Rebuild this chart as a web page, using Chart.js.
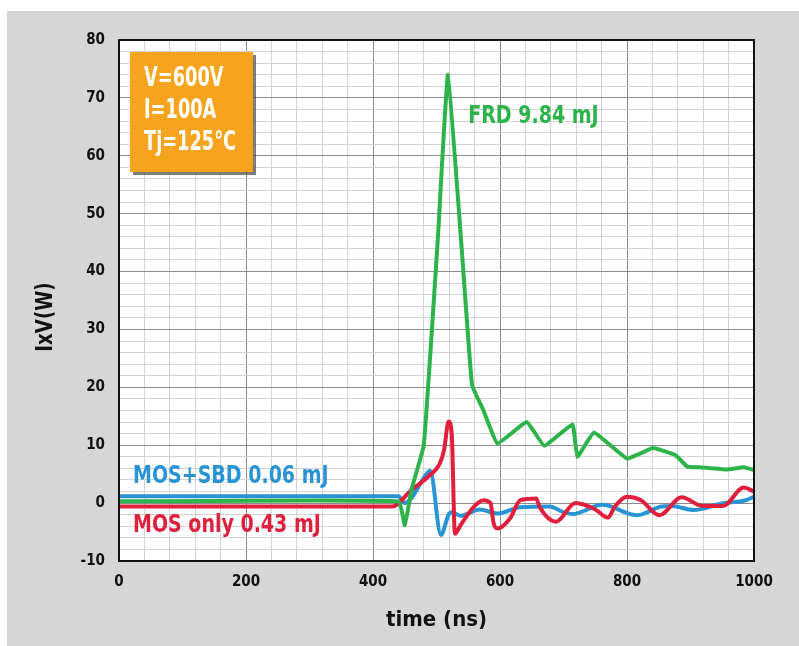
<!DOCTYPE html>
<html>
<head>
<meta charset="utf-8">
<script src="https://cdn.jsdelivr.net/npm/chart.js@4.4.0/dist/chart.umd.min.js"></script>
<style>
  html, body { margin: 0; padding: 0; background: #ffffff; }
  #wrap { width: 799px; height: 646px; position: relative; }
</style>
</head>
<body>
<div id="wrap"><canvas id="c" width="799" height="646"></canvas></div>
<script>
// ---- Data (time in ns, power IxV in W) ----
const frdTime = [0, 440, 450, 461, 480, 502, 518, 541, 556, 574, 596, 642, 670, 714, 722, 748, 800, 841, 876, 895, 914, 957, 984, 1000];
const frdPower = [0.3, 0.3, -3.8, 2.5, 10, 45.5, 74, 42, 20.4, 16, 10.3, 14, 9.9, 13.6, 8, 12.2, 7.7, 9.5, 8.3, 6.3, 6.2, 5.8, 6.2, 5.7];

const mosTime = [0, 430, 460, 487, 505, 512, 519, 524, 529, 538, 559, 574, 585, 590, 596, 616, 632, 657, 662, 688, 719, 750, 770, 781, 800, 822, 851, 886, 919, 951, 984, 1000];
const mosPower = [-0.6, -0.6, 2.2, 4.6, 6.8, 9.2, 14.1, 12, -5.3, -3.8, -0.6, 0.5, 0, -3.5, -4.4, -2.6, 0.5, 0.8, -0.6, -3.2, 0, -1.1, -2.5, -0.6, 1.1, 0.5, -2.1, 1, -0.5, -0.5, 2.7, 2];

const sbdTime = [0, 440, 450, 487, 490, 507, 520, 525, 538, 568, 596, 632, 678, 699, 714, 761, 816, 854, 870, 905, 951, 984, 1000];
const sbdPower = [1.2, 1.2, 0, 5.4, 5.6, -5.5, -1.8, -1.6, -2.2, -1.1, -1.8, -0.7, -0.6, -1.5, -1.9, -0.3, -2.1, -0.6, -0.5, -1.2, 0, 0.4, 1.1];

const seriesLabels = ["FRD 9.84 mJ", "MOS+SBD 0.06 mJ", "MOS only 0.43 mJ"];
const conditionLines = ["V=600V", "I=100A", "Tj=125°C"];
const xTickLabels = [0, 200, 400, 600, 800, 1000];
const yTickLabels = [-10, 0, 10, 20, 30, 40, 50, 60, 70, 80];
const xTitle = "time (ns)";
const yTitle = "IxV(W)";

// ---- Styling ----
const FONT = "'Liberation Sans Narrow', 'DejaVu Sans Condensed', 'Liberation Sans', Arial, sans-serif";
const GREEN = '#2cb34a';
const RED = '#e01f3d';
const BLUE = '#2894d3';

const toPts = (xs, ys) => xs.map((x, i) => ({ x: x, y: ys[i] }));

function narrowText(ctx, text, x, y, sx) {
  ctx.save();
  ctx.translate(x, y);
  ctx.scale(sx, 1);
  ctx.fillText(text, 0, 0);
  ctx.restore();
}

const bgPlugin = {
  id: 'bg',
  beforeDraw(chart) {
    const ctx = chart.ctx, a = chart.chartArea;
    ctx.save();
    ctx.fillStyle = '#ffffff';
    ctx.fillRect(0, 0, chart.width, chart.height);
    ctx.fillStyle = '#d6d6d6';
    ctx.fillRect(7, 11, chart.width - 7, chart.height - 11);
    ctx.fillStyle = '#ffffff';
    ctx.fillRect(a.left, a.top, a.right - a.left, a.bottom - a.top);
    ctx.restore();
  },
  afterDraw(chart) {
    const ctx = chart.ctx, a = chart.chartArea;
    const xs = chart.scales.x, ys = chart.scales.y;
    ctx.save();
    // frame
    ctx.strokeStyle = '#111';
    ctx.lineWidth = 2;
    ctx.strokeRect(a.left, a.top, a.right - a.left, a.bottom - a.top);

    // y title
    ctx.save();
    ctx.translate(46, 317);
    ctx.rotate(-Math.PI / 2);
    ctx.fillStyle = '#111';
    ctx.font = "bold 23px " + FONT;
    ctx.textAlign = 'left';
    ctx.textBaseline = 'middle';
    const tw = ctx.measureText(yTitle).width * 0.88;
    narrowText(ctx, yTitle, -tw / 2, 0, 0.88);
    ctx.restore();

    // condition box
    const bx = a.left + 11, by = a.top + 12, bw = 123, bh = 120;
    ctx.fillStyle = 'rgba(70,70,70,0.7)';
    ctx.fillRect(bx + 3, by + 3, bw, bh);
    ctx.fillStyle = '#f6a41e';
    ctx.fillRect(bx, by, bw, bh);
    ctx.fillStyle = '#ffffff';
    ctx.font = "bold 26px " + FONT;
    ctx.textAlign = 'left';
    ctx.textBaseline = 'middle';
    conditionLines.forEach((t, i) => narrowText(ctx, t, bx + 14, by + 27 + i * 32, 0.76));

    // series labels at data positions
    ctx.font = "bold 24px " + FONT;
    ctx.textBaseline = 'middle';
    ctx.fillStyle = GREEN;
    narrowText(ctx, seriesLabels[0], xs.getPixelForValue(550), ys.getPixelForValue(66.8), 0.88);
    ctx.fillStyle = BLUE;
    narrowText(ctx, seriesLabels[1], xs.getPixelForValue(22), ys.getPixelForValue(4.5), 0.88);
    ctx.fillStyle = RED;
    narrowText(ctx, seriesLabels[2], xs.getPixelForValue(22), ys.getPixelForValue(-3.9), 0.88);
    ctx.restore();
  }
};

new Chart(document.getElementById('c'), {
  type: 'line',
  data: {
    datasets: [
      { label: seriesLabels[0], data: toPts(frdTime, frdPower), borderColor: GREEN, borderWidth: 4, pointRadius: 0, tension: 0.1, fill: false },
      { label: seriesLabels[2], data: toPts(mosTime, mosPower), borderColor: RED, borderWidth: 4, pointRadius: 0, cubicInterpolationMode: 'monotone', fill: false },
      { label: seriesLabels[1], data: toPts(sbdTime, sbdPower), borderColor: BLUE, borderWidth: 4, pointRadius: 0, cubicInterpolationMode: 'monotone', fill: false }
    ]
  },
  options: {
    responsive: false,
    animation: false,
    devicePixelRatio: 1,
    layout: { padding: { left: 0, top: 40, right: 45, bottom: 0 } },
    plugins: { legend: { display: false }, tooltip: { enabled: false } },
    scales: {
      x: {
        type: 'linear', min: 0, max: 1000,
        afterFit(s) { s.height = 85; },
        border: { display: false },
        grid: {
          drawTicks: false,
          color: c => (c.tick.value % 200 === 0 ? '#8c8c8c' : '#d2d2d2'),
          lineWidth: 1
        },
        ticks: {
          stepSize: 40, autoSkip: false, maxRotation: 0, padding: 12,
          color: '#111',
          font: { family: FONT, size: 15, weight: 'bold' },
          callback: v => (xTickLabels.includes(v) ? String(v) : '')
        },
        title: {
          display: true, text: xTitle, color: '#111',
          font: { family: FONT, size: 22, weight: 'bold' },
          padding: { top: 0, bottom: 13 }
        }
      },
      y: {
        type: 'linear', min: -10, max: 80,
        afterFit(s) { s.width = 119; },
        border: { display: false },
        grid: {
          drawTicks: false,
          color: c => (c.tick.value % 10 === 0 ? '#8c8c8c' : '#d2d2d2'),
          lineWidth: 1
        },
        ticks: {
          stepSize: 2, autoSkip: false, padding: 14,
          color: '#111',
          font: { family: FONT, size: 15, weight: 'bold' },
          callback: v => (yTickLabels.includes(v) ? String(v) : '')
        }
      }
    }
  },
  plugins: [bgPlugin]
});
</script>
</body>
</html>
